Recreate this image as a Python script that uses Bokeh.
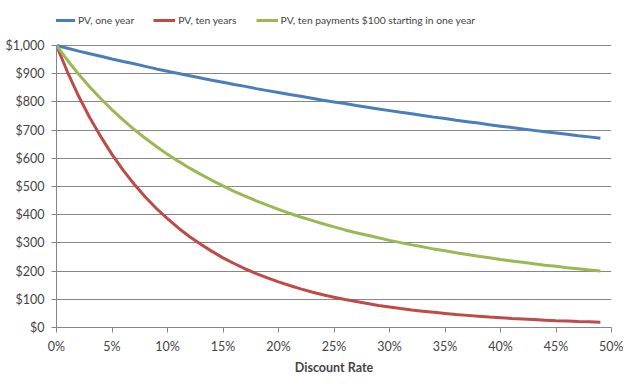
from bokeh.plotting import figure
from bokeh.models import ColumnDataSource, FixedTicker, NumeralTickFormatter, Legend, LegendItem
from bokeh.embed import file_html
from bokeh.resources import INLINE

# Discount rates (fractions) 0%..49%
rates = [i / 100 for i in range(50)]

pv_one_year = [1000, 990, 980, 971, 962, 952, 943, 935, 926, 917,
               909, 901, 893, 885, 877, 870, 862, 855, 847, 840,
               833, 826, 820, 813, 806, 800, 794, 787, 781, 775,
               769, 763, 758, 752, 746, 741, 735, 730, 725, 719,
               714, 709, 704, 699, 694, 690, 685, 680, 676, 671]

pv_ten_years = [1000, 905, 820, 744, 676, 614, 558, 508, 463, 422,
                386, 352, 322, 295, 270, 247, 227, 208, 191, 176,
                162, 149, 137, 126, 116, 107, 99, 92, 85, 78,
                73, 67, 62, 58, 54, 50, 46, 43, 40, 37,
                35, 32, 30, 28, 26, 24, 23, 21, 20, 19]

pv_ten_payments = [1000, 947, 898, 853, 811, 772, 736, 702, 671, 642,
                   614, 589, 565, 543, 522, 502, 483, 466, 449, 434,
                   419, 405, 392, 380, 368, 357, 346, 336, 327, 318,
                   309, 301, 293, 286, 278, 272, 265, 259, 253, 247,
                   241, 236, 231, 226, 221, 217, 212, 208, 204, 200]

series_names = ["PV, one year", "PV, ten years", "PV, ten payments $100 starting in one year"]
x_ticks = [0, 0.05, 0.10, 0.15, 0.20, 0.25, 0.30, 0.35, 0.40, 0.45, 0.50]
y_ticks = [0, 100, 200, 300, 400, 500, 600, 700, 800, 900, 1000]

colors = ["#4A7EBB", "#BE4B48", "#98B954"]
FONT = "Lato"
GRID = "#868686"

# layout: frame spans the full height above the x axis; the legend sits in its top strip
FRAME_H = 327          # px, from top of canvas to the x axis
PLOT_H = 282           # px, height used by the 0..1000 value scale
y_top = 1000 * FRAME_H / PLOT_H

src = ColumnDataSource(dict(x=rates, a=pv_one_year, b=pv_ten_years, c=pv_ten_payments))

p = figure(width=623, height=379, output_backend="svg", toolbar_location=None,
           x_range=(0, 0.5), y_range=(0, y_top),
           min_border_left=56, min_border_right=12, min_border_top=0, min_border_bottom=52)
p.outline_line_color = None
p.background_fill_color = "white"
p.border_fill_color = "white"

r1 = p.line("x", "a", source=src, line_color=colors[0], line_width=3)
r2 = p.line("x", "b", source=src, line_color=colors[1], line_width=3)
r3 = p.line("x", "c", source=src, line_color=colors[2], line_width=3)

p.xgrid.visible = False
p.ygrid.ticker = FixedTicker(ticks=y_ticks)
p.ygrid.grid_line_color = GRID
p.ygrid.grid_line_width = 1

xa = p.xaxis[0]
xa.ticker = FixedTicker(ticks=x_ticks)
xa.formatter = NumeralTickFormatter(format="0%")
xa.axis_label = "Discount Rate"
xa.axis_label_text_font = FONT
xa.axis_label_text_font_style = "bold"
xa.axis_label_text_font_size = "12.5px"
xa.axis_label_standoff = 3
xa.major_label_text_font = FONT
xa.major_label_text_font_size = "12.5px"
xa.major_label_standoff = 6
xa.major_tick_out = 5
xa.major_tick_in = 0
xa.minor_tick_out = 0
xa.minor_tick_in = 0
xa.axis_line_color = GRID
xa.major_tick_line_color = GRID

ya = p.yaxis[0]
ya.ticker = FixedTicker(ticks=y_ticks)
ya.bounds = (0, 1000)
ya.formatter = NumeralTickFormatter(format="$0,0")
ya.major_label_text_font = FONT
ya.major_label_text_font_size = "12.5px"
ya.major_label_standoff = 7
ya.major_tick_out = 5
ya.major_tick_in = 0
ya.minor_tick_out = 0
ya.minor_tick_in = 0
ya.axis_line_color = GRID
ya.major_tick_line_color = GRID

legend = Legend(items=[LegendItem(label=series_names[0], renderers=[r1]),
                       LegendItem(label=series_names[1], renderers=[r2]),
                       LegendItem(label=series_names[2], renderers=[r3])],
                orientation="horizontal", location=(-3, FRAME_H - 28),
                label_text_font=FONT, label_text_font_size="10.3px",
                glyph_width=22, glyph_height=16, label_height=16,
                label_standoff=3, spacing=19, padding=0, margin=0,
                border_line_color=None, background_fill_alpha=0)
p.add_layout(legend, "center")

open("out.html", "w").write(file_html(p, INLINE))
